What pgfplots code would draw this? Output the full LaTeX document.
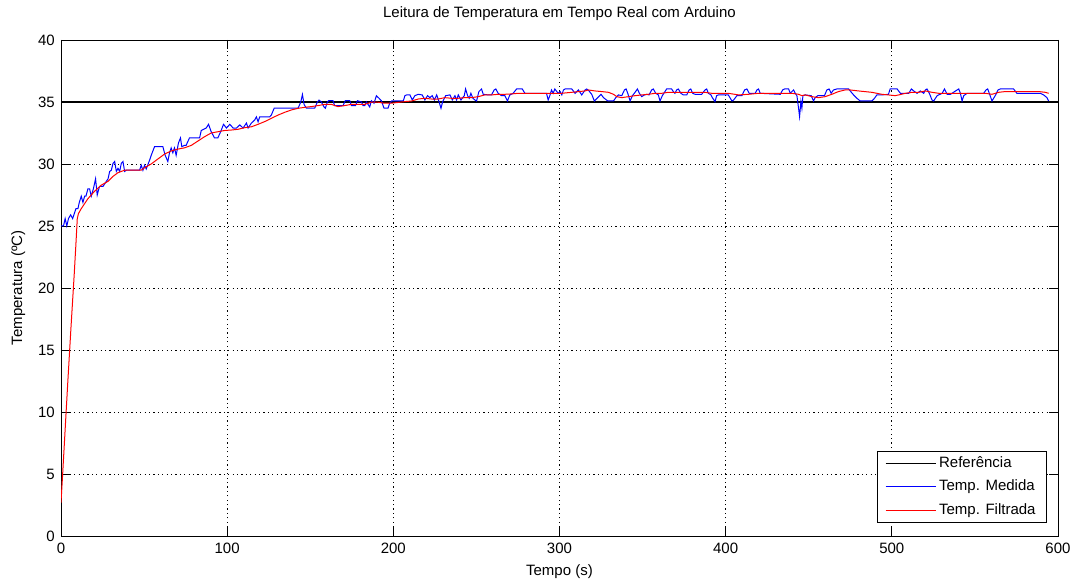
\documentclass[border=0pt]{standalone}
\usepackage{fontspec}
\setmainfont{Liberation Sans}
\usepackage{pgfplots}
\pgfplotsset{compat=1.18}
\newcommand{\fs}{\fontsize{15bp}{17bp}\selectfont}
\begin{document}
\begin{tikzpicture}[x=1bp,y=1bp]
\path[use as bounding box] (0,0) rectangle (1071,581);
\begin{axis}[
  at={(61bp,45bp)}, anchor=south west,
  scale only axis, width=997bp, height=496bp,
  xmin=0, xmax=600, ymin=0, ymax=40,
  xtick={0,100,...,600}, ytick={0,5,...,40},
  grid=major,
  major grid style={black, line width=0.7bp, dash pattern=on 1.2bp off 3.2bp},
  tick align=inside, tick pos=both, major tick length=9bp,
  tick style={black, line width=0.8bp},
  axis line style={black, line width=0.9bp},
  /pgf/number format/assume math mode=true,
  ticklabel style={font=\fs},
  yticklabel style={inner sep=0pt, anchor=east, xshift=-6bp},
  xticklabel style={inner sep=0pt, anchor=north, yshift=-7bp},
  title={Leitura de Temperatura em Tempo Real com Arduino},
  title style={font=\fs, at={(0.5,1)}, anchor=base, yshift=17bp, inner sep=0pt},
  xlabel={Tempo (s)},
  xlabel style={font=\fs, at={(0.5,0)}, anchor=base, yshift=-40bp, inner sep=0pt},
  ylabel={Temperatura (ºC)},
  ylabel style={font=\fs, at={(axis description cs:-0.0391,0.5)}, anchor=base, inner sep=0pt},
  legend cell align=left,
  legend image code/.code={\draw[line width=1.1bp,#1] (0bp,0bp) -- (50bp,0bp);},
  legend style={font=\fs, at={(1,0)}, anchor=south east, xshift=-11bp, yshift=13bp,
    draw=black, line width=0.8bp, fill=white, inner xsep=8bp, inner ysep=5bp,
    row sep=9bp, nodes={inner xsep=3bp, inner ysep=0pt, text height=11bp, text depth=3.5bp}},
]
\addplot[black, line width=1.4bp] coordinates {(0,35) (600,35)};
\addlegendentry{Referência}
\addplot[blue, line width=1bp] coordinates {
(0,25.0)(1.5,25.0)(2.5,25.6)(3.5,25.0)(4.5,25.6)(5.8,25.9)(7,25.6)(8,26.0)(9,26.4)(10.2,26.4)(11,26.9)(12.2,27.4)(13.2,26.9)(14.2,27.4)(15,27.4)(16.2,28.0)(17.2,28.0)(18.2,27.4)(19.5,28.0)(20.8,28.8)(21.8,27.5)(23.2,28.2)(25.3,28.2)(26.3,28.4)(28.3,28.8)(29.3,29.4)(30.3,29.5)(31.3,30.05)(32.3,30.2)(33.3,29.4)(34.3,29.65)(35.3,29.4)(36.3,30.05)(37.3,30.2)(38.3,29.4)(39.3,29.5)(47.3,29.5)(48.3,29.9)(49.3,29.5)(50.3,29.9)(51.3,29.6)(53.3,30.3)(54.3,30.7)(56.3,31.4)(61.3,31.4)(62.7,30.7)(64.3,30.2)(65.3,30.9)(66.3,31.3)(67.3,30.9)(68.3,31.3)(69.3,30.7)(70.7,31.7)(71.9,32.1)(72.7,31.4)(74.3,31.5)(75.3,31.5)(77.3,32.1)(83.4,32.1)(84.4,32.7)(87.4,32.9)(88.8,33.2)(90.4,32.6)(92.4,32.1)(94.4,32.1)(96.4,32.7)(97.8,33.2)(99.6,32.9)(101.6,33.2)(103.6,32.9)(105.6,32.9)(107.6,33.15)(109.6,32.9)(111.6,33.3)(112.6,32.9)(114.6,33.3)(116.6,33.55)(117.6,33.8)(118.6,33.4)(119.6,33.8)(125.6,33.8)(126.6,33.95)(128.3,34.5)(142.7,34.5)(144.3,35.0)(145.3,35.6)(146.3,34.8)(147.7,34.5)(152.7,34.5)(154.3,35.0)(155.3,35.15)(156.7,35.0)(158.3,34.6)(159.1,34.5)(160.3,35.0)(161.1,35.1)(163.7,35.1)(164.7,34.7)(169.7,34.7)(171.1,35.1)(173.8,35.1)(174.8,34.7)(177.2,34.7)(178.4,35.1)(180.8,35.0)(181.8,34.7)(182.8,34.7)(183.8,35.0)(184.8,34.8)(185.8,34.6)(186.8,35.1)(188.4,34.9)(189.8,35.5)(191.4,35.3)(192.8,35.1)(194.4,34.5)(196.8,34.5)(197.8,34.9)(199,35.08)(206,35.08)
(207,35.51)(208,35.57)(210,35.57)(211.4,35.16)(213,35.51)(215,35.62)(217.4,35.57)(219,35.16)(220.6,35.51)(222,35.35)(223.4,35.51)(224.7,35.16)(226.1,35.57)(227.5,35.03)(228.7,34.49)(229.7,35.03)(231.5,35.51)(234.1,35.57)(235.5,35.16)(237.1,35.51)(238.1,35.16)(239.1,35.57)(240.7,35.16)(242.7,35.51)(243.5,36.05)(244.7,35.51)(245.7,35.3)(246.7,35.7)(247.9,35.3)(249.1,35.16)(250.1,35.08)(251.5,35.84)(253.1,36.05)(254.1,35.62)(257.1,35.57)(259.1,35.57)(260.7,35.97)(261.7,36.05)(263.1,35.7)(265.1,35.51)(267.1,35.51)(268.7,35.08)(270.1,35.57)(272.1,35.7)(274.2,36.05)(277.6,36.05)(279.2,35.7)(292.2,35.7)(293.2,35.16)(294.2,35.51)(295.2,35.97)(296.2,35.7)(297.2,36.05)(299.2,35.7)
(300.4,35.84)(301.4,35.57)(302.4,35.97)(303.4,36.05)(307.4,36.05)(309.4,35.7)(311.4,35.97)(313.4,35.57)(315.4,35.97)(316.4,36.05)(317.8,35.89)(319.4,35.62)(321,35.08)(323,35.35)(325,35.62)(326.5,35.35)(329.1,35.08)(332.5,35.08)(333.9,35.35)(335.5,35.57)(337.5,35.51)(339.1,35.97)(340.1,36.05)(341.1,35.7)(342.5,35.08)(343.9,35.51)(345.5,35.78)(346.9,36.05)(348.1,35.7)(349.5,35.43)(351.1,35.57)(352.5,35.62)(353.9,35.57)(355.5,35.97)(356.5,36.05)(357.9,35.7)(359.5,35.57)(360.5,35.08)(361.9,35.51)(363.5,35.84)(364.5,36.05)(367.5,36.05)(368.5,35.84)(369.5,35.7)(370.5,35.97)(371.5,36.05)(373.1,35.7)(374.5,35.57)(376.6,35.57)(378,35.97)(379,36.05)(380.2,35.7)(381.6,35.62)(385.6,35.62)(387.6,35.97)(388.6,36.05)(389.6,35.7)(391.2,35.57)(392,35.35)(393.6,35.03)(394.6,35.51)(395.6,35.57)(401.6,35.57)
(403.8,35.08)(404.8,35.16)(406.8,35.51)(409.8,35.51)(411.4,35.97)(412.8,36.05)(414.2,35.7)(417.8,35.7)(418.8,35.97)(419.8,36.05)(420.8,35.7)(432.9,35.62)(434.3,35.97)(435.5,36.05)(437.9,36.05)(438.9,35.7)(439.9,35.84)(440.9,35.97)(441.9,35.7)(442.9,35.51)(443.9,34.49)(444.5,33.82)(445.3,35.03)(445.9,34.49)(446.5,35.51)(447.9,35.57)(451.5,35.51)(452.9,35.08)(453.9,35.35)(455.5,35.51)(459.5,35.51)(460.9,35.97)(462.3,36.05)(463.5,35.7)(464.9,35.97)(466.9,36.05)(474,36.05)(477,35.57)(479,35.3)(481,35.08)(488,35.08)(489.6,35.3)(491,35.57)(494,35.57)(498,35.62)(499,36.05)(503.2,36.05)
(505.2,35.7)(510.2,35.7)(511.8,36.05)(513.2,35.89)(515.2,35.7)(517.2,35.89)(519.2,35.7)(520.2,35.97)(521.2,36.05)(522.6,35.7)(524.2,35.16)(525.2,35.08)(527.3,35.51)(530.3,35.7)(531.7,36.05)(533.3,35.62)(535.3,35.62)(539.3,35.97)(540.3,36.05)(541.3,35.7)(542.3,35.08)(543.3,35.51)(545.3,35.7)(555.3,35.7)(556.7,35.97)(557.7,36.05)(558.7,35.7)(560.3,35.08)(561.3,35.3)(562.7,35.62)(563.9,35.97)(565.3,36.05)(573.3,36.05)(575.3,35.7)(589.4,35.7)(591.4,35.57)(593.4,35.35)(594.4,35.08)
};
\addlegendentry{Temp. Medida}
\addplot[red, line width=1bp] coordinates {
(0,2.7)(1,5.0)(2,7.4)(3,9.8)(4,12.2)(5,14.5)(6,16.8)(7,19.0)(8,21.2)(9,23.6)(9.8,25.6)(10.5,26.0)(12.2,26.4)(16.2,27.2)(20.2,27.8)(24.3,28.3)(28.3,28.6)(31.3,29.0)(34.3,29.3)(38.3,29.5)(48.3,29.5)(50.3,29.7)(54.3,30.0)(58.3,30.4)(62.3,30.8)(66.3,31.05)(70.3,31.2)(74.3,31.3)(78.4,31.5)(82.4,31.85)(86.4,32.2)(90.4,32.5)(94.4,32.6)(98.4,32.7)
(102.6,32.74)(106.6,32.8)(110.6,32.93)(114.6,33.0)(118.6,33.2)(122.6,33.42)(126.7,33.69)(130.7,33.95)(134.7,34.17)(138.7,34.36)(142.7,34.49)(146.7,34.57)(150.7,34.63)(154.7,34.71)(158.7,34.81)(162.7,34.81)(166.7,34.63)(170.7,34.71)(174.8,34.81)(178.8,34.81)(182.8,34.81)(186.8,34.98)(190.8,34.98)(194.8,34.9)(198.8,34.9)
(207,35.03)(211,35.08)(215,35.24)(219,35.3)(223,35.24)(227,35.24)(231,35.35)(235,35.3)(239,35.3)(243,35.35)(247,35.35)(251.1,35.43)(255.1,35.57)(259.1,35.57)(263.1,35.62)(267.1,35.62)(271.1,35.65)(275.2,35.7)(301.2,35.7)
(307.4,35.78)(315.4,35.89)(317.4,35.97)(321.4,35.89)(325.4,35.84)(329.5,35.78)(332.5,35.62)(334.5,35.43)(337.5,35.35)(341.5,35.43)(345.5,35.51)(349.5,35.57)(353.5,35.62)(357.5,35.7)(361.5,35.7)(365.5,35.78)(387.6,35.78)(391.6,35.7)(401.6,35.7)
(407.8,35.57)(413.8,35.62)(419.8,35.7)(439.9,35.7)(443.9,35.62)(445.9,35.51)(447.9,35.57)(451.9,35.43)(455.9,35.35)(459.9,35.43)(463.9,35.62)(467.9,35.84)(471.9,35.97)(475,35.97)(480,35.89)(488,35.78)(494,35.62)(498,35.57)(502,35.51)
(504.2,35.57)(508.2,35.7)(512.2,35.78)(516.2,35.78)(520.2,35.89)(524.2,35.78)(528.3,35.7)(556.3,35.7)(560.3,35.62)(564.3,35.78)(568.3,35.84)(588.4,35.84)(592.4,35.78)(594.4,35.7)
};
\addlegendentry{Temp. Filtrada}
\end{axis}
\end{tikzpicture}
\end{document}
